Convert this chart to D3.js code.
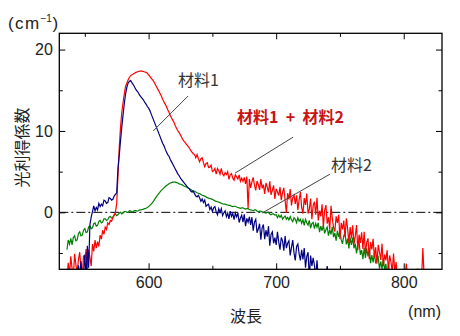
<!DOCTYPE html>
<html>
<head>
<meta charset="utf-8">
<script src="https://cdn.jsdelivr.net/npm/d3@7"></script>
<style>
  body { margin: 0; background: #fff; }
  text { font-family: "Liberation Sans", Arial, sans-serif; fill: #222; }
  .jp { font-family: "Noto Sans CJK JP", sans-serif; }
</style>
</head>
<body>
<div id="chart"></div>
<script>
const width = 460;
const height = 336;

// wavelength grid (nm) for each series: start + 1 nm step
const redStart = 536;
const blueStart = 544;
const greenStart = 536;
const stepNm = 1;

// 材料1 + 材料2 (red)
const redValues = [
  -8, -6.2, -7.8, -5.4, -6.9, -8, -5.1, -6.4, -7.5, -5.8,
  -4.9, -6.8, -7.9, -5.3, -5.9, -4.5, -7.1, -4.6, -5.5, -6.6,
  -3.9, -4.8, -3.4, -4.4, -3.6, -4.2, -2.8, -3.3, -2.2, -2.7,
  -1.8, -2.1, -1.3, -1.5, -1.0, -1.1, -0.6, -0.4, 0.0, 1.1,
  4.5, 8.0, 10.5, 12.3, 13.5, 14.6, 15.5, 15.9, 16.3, 16.6,
  16.8, 16.9, 17.0, 17.1, 17.2, 17.25, 17.3, 17.35, 17.35, 17.35,
  17.3, 17.25, 17.2, 17.1, 16.9, 16.7, 16.5, 16.3, 16.1, 15.8,
  15.5, 15.2, 14.9, 14.6, 14.3, 13.9, 13.6, 13.3, 13.0, 12.6,
  12.3, 11.9, 11.6, 11.3, 11.0, 10.6, 10.3, 10.0, 9.8, 9.5,
  9.2, 8.9, 8.7, 8.5, 8.3, 8.1, 7.9, 7.6, 7.4, 7.2,
  7.1, 6.7, 7.1, 6.6, 6.2, 6.6, 6.7, 6.1, 5.6, 6.0,
  6.1, 5.5, 5.55, 5.8, 5.0, 5.1, 5.4, 4.7, 5.4, 5.1,
  4.7, 5.4, 4.7, 4.5, 4.9, 4.65, 5.0, 4.05, 4.6, 4.75,
  4.2, 3.95, 4.6, 4.35, 4.1, 4.6, 3.8, 4.2, 3.8, 4.3,
  3.5, 4.4, 0.5, 4.1, 3.0, 3.75, 4.3, 3.35, 2.7, 3.85,
  3.4, 2.75, 4.1, 2.95, 3.4, 2.25, 3.6, 3.1, 2.45, 3.8,
  2.15, 2.7, 3.3, 1.65, 2.9, 2.5, 2.05, 3.1, 1.5, 2.45,
  3.0, 1.5, -0.05, 2.35, 1.6, 2.85, 0.85, 1.8, 2.1, 1.05,
  2.1, 0.3, 1.55, 2.5, 0.6, -0.15, 1.75, 0.9, 2.3, -0.15,
  0.4, 1.7, -0.85, 0.85, 1.3, -0.3, 1.8, -1.0, 0.2, -0.5,
  1.0, -1.8, 0.2, 0.9, -1.4, -0.6, -2.1, 0.8, -0.75, -1.85,
  -2.35, -0.5, -1.3, -0.3, -3.3, -1.3, -2.1, -1.0, -3.05, -0.75,
  -1.95, -3.75, -1.8, -3.2, -1.6, -3.9, -2.9, -1.55, -4.65, -2.75,
  -3.75, -2.45, -4.5, -2.4, -5.1, -3.7, -3.2, -5.75, -3.65, -4.55,
  -3.25, -5.55, -4.3, -6.3, -4.0, -4.9, -5.85, -3.85, -6.6, -5.2,
  -5.9, -4.65, -7.25, -5.3, -6.1, -7.3, -5.05, -7.25, -6.1, -8,
  -8, -8, -7.2, -8, -8, -8, -6.3, -8, -8, -8,
  -8, -8, -8, -8, -8, -6.9, -8, -8, -8, -4.4,
  -8
];

// 材料1 (navy)
const blueValues = [
  -8, -6.5, -7.9, -6.0, -8, -7.6, -5.2, -8, -4.1, -6.8,
  -1.5, -0.6, 0.1, 0.8, 0.2, 0.6, 0.3, 1.1, 0.7, 1.0,
  0.8, 1.5, 1.4, 1.1, 1.2, 1.8, 1.7, 1.5, 1.6, 2.0,
  2.2, 2.4, 5.4, 7.0, 8.8, 10.5, 12.0, 13.4, 14.6, 15.4,
  15.9, 16.1, 16.2, 15.9, 15.7, 15.4, 15.1, 14.9, 14.7, 14.4,
  14.2, 14.0, 13.8, 13.5, 13.3, 13.0, 12.8, 12.5, 12.1, 11.7,
  11.3, 10.9, 10.5, 10.1, 9.7, 9.3, 8.9, 8.5, 8.2, 7.8,
  7.4, 7.1, 6.9, 6.5, 6.2, 5.9, 5.6, 5.3, 5.0, 4.7,
  4.5, 4.2, 4.0, 3.8, 3.6, 3.4, 3.2, 3.0, 2.9, 2.6,
  2.5, 2.6, 2.3, 2.0, 1.9, 2.1,
  1.8, 1.35, 1.65, 1.2, 1.5, 0.75, 0.9, 1.0, 0.35, 0.65,
  0.1, 0.55, 0.7, 0.05, -0.3, 0.45, 0.0, 0.45, -0.4, -0.05,
  0.2, -0.55, -0.1, -0.8, 0.15, -0.5, -0.15, -0.9, -0.1, -0.55,
  -0.1, -1.25, -0.7, -0.35, -1.2, -0.25, -1.7, -0.75, -1.2, -0.55,
  -1.55, -0.6, -2.25, -1.2, -0.85, -2.5, -2.05, -1.4, -3.35, -1.9,
  -1.5, -3.3, -2.2, -3.0, -1.7, -4.1, -2.7, -2.4, -3.8, -3.1,
  -4.0, -2.4, -3.6, -4.6, -3.1, -3.5, -4.7, -2.9, -4.4, -3.8,
  -3.5, -5.3, -4.3, -3.4, -5.0, -5.9, -4.2, -3.9, -5.1, -5.9,
  -4.6, -5.8, -4.4, -6.8, -5.4, -4.9, -8.1, -5.3, -6.6, -5.6,
  -6.5, -8, -5.9, -8, -7.4, -8, -8, -8, -8, -8,
  -6.6, -8, -8, -8
];

// 材料2 (green)
const greenValues = [
  -4.6, -3.4, -3.9, -3.2, -4.0, -3.1, -2.9, -3.5, -3.4, -2.6,
  -2.4, -2.9, -2.8, -2.2, -2.0, -2.5, -2.4, -1.8, -1.7, -2.0,
  -1.9, -1.4, -1.3, -1.7, -1.6, -1.1, -1.0, -1.3, -1.2, -0.8,
  -0.8, -1.0, -0.9, -0.6, -0.5, -0.7, -0.6, -0.3, -0.2, -0.4,
  -0.3, -0.1, 0.0, -0.2, -0.1, 0.1, 0.1, 0.0, 0.0, 0.2,
  0.15, 0.05, 0.1, 0.2, 0.2, 0.15, 0.2, 0.3, 0.3, 0.35,
  0.4, 0.45, 0.5, 0.6, 0.7, 0.85, 1.0, 1.2, 1.4, 1.65,
  1.9, 2.1, 2.3, 2.5, 2.7, 2.85, 3.0, 3.15, 3.3, 3.4,
  3.5, 3.6, 3.65, 3.7, 3.7, 3.7, 3.65, 3.6, 3.5, 3.45,
  3.4, 3.3, 3.2, 3.15, 3.1, 3.0, 2.9, 2.8, 2.7, 2.65,
  2.6, 2.5, 2.4, 2.35, 2.3, 2.2, 2.1, 2.05, 2.0, 1.9,
  1.8, 1.75, 1.7, 1.65, 1.6, 1.5, 1.4, 1.35, 1.3, 1.25,
  1.2, 1.1, 1.05, 1.0, 1.0, 0.95, 0.9, 0.85, 0.85, 0.75,
  0.7, 0.75, 0.75, 0.65, 0.6, 0.55, 0.5, 0.55, 0.55, 0.45,
  0.4, 0.45, 0.45, 0.35, 0.3, 0.25, 0.2, 0.3, 0.3, 0.15,
  0.1, 0.15, 0.15, 0.05, 0.0, -0.05, -0.1, 0.0, 0.0, -0.2,
  -0.3, -0.2, -0.2, -0.35,
  -0.3, -0.64, -0.33, -0.61, -0.35, -0.83, -0.62, -0.45, -0.84, -0.62,
  -0.95, -0.53, -0.91, -1.14, -0.67, -0.85, -1.28, -0.66, -1.09, -0.87,
  -1.35, -0.9, -1.61, -0.86, -1.27, -1.57, -0.98, -1.93, -1.39, -1.24,
  -2.0, -1.36, -1.82, -1.28, -2.44, -1.7, -2.26, -1.57, -2.58, -2.14,
  -1.8, -2.87, -2.14, -2.71, -1.78, -3.05, -2.52, -3.49, -2.26, -3.03,
  -2.3, -3.39, -3.88, -2.87, -2.56, -3.95, -3.24, -4.43, -3.12, -4.01,
  -3.1, -4.42, -3.84, -5.06, -3.88, -3.6, -5.22, -4.64, -5.76, -4.38,
  -5.6, -4.41, -5.42, -4.43, -6.24, -5.25, -6.16, -4.97, -6.28, -5.79,
  -5.5, -6.92, -6.04, -6.96, -5.68, -7.1, -6.32, -7.84, -6.46, -7.98,
  -8
];

const xMajor = [600, 700, 800];
const xMinor = [550, 650, 750];
const yMajor = [0, 10, 20];
const yMinor = [-5, 5, 15];

const margin = { top: 33.3, right: 18, bottom: 66.7, left: 59.3 };
const plot = {
  left: margin.left,
  right: width - margin.right,
  top: margin.top,
  bottom: height - margin.bottom,
};

const xScale = d3.scaleLinear().domain([530, 830]).range([plot.left, plot.right]);
const yScale = d3.scaleLinear().domain([-7, 22]).range([plot.bottom, plot.top]);

function toPoints(start, values) {
  return values.map((v, i) => ({ nm: start + i * stepNm, v }));
}

const svg = d3.select('#chart')
  .append('svg')
  .attr('width', width)
  .attr('height', height);

svg.append('clipPath').attr('id', 'clip')
  .append('rect')
  .attr('x', plot.left).attr('y', plot.top)
  .attr('width', plot.right - plot.left)
  .attr('height', plot.bottom - plot.top);

// zero line (dash-dot)
svg.append('line')
  .attr('x1', plot.left).attr('x2', plot.right)
  .attr('y1', yScale(0)).attr('y2', yScale(0))
  .attr('stroke', '#000')
  .attr('stroke-width', 1)
  .attr('stroke-dasharray', '9,3,2,3');

const line = d3.line()
  .x((d) => xScale(d.nm))
  .y((d) => yScale(d.v));

const series = [
  { pts: toPoints(greenStart, greenValues), color: '#008000' },
  { pts: toPoints(redStart, redValues), color: '#ff0000' },
  { pts: toPoints(blueStart, blueValues), color: '#000080' },
];

const lines = svg.append('g').attr('clip-path', 'url(#clip)');
lines.selectAll('path')
  .data(series)
  .join('path')
  .attr('d', (d) => line(d.pts))
  .attr('fill', 'none')
  .attr('stroke', (d) => d.color)
  .attr('stroke-width', 1.2);

// axes: ticks point inward on all four sides
function styleAxis(g) {
  g.select('.domain').remove();
  g.selectAll('.tick line').attr('stroke', '#000').attr('stroke-width', 1);
  g.selectAll('.tick text').attr('font-size', 16).attr('fill', '#222')
    .style('font-family', '"Liberation Sans", Arial, sans-serif');
}

svg.append('g')
  .attr('transform', `translate(0, ${plot.bottom})`)
  .call(d3.axisBottom(xScale).tickValues(xMajor).tickSize(-6).tickPadding(7).tickFormat(d3.format('d')))
  .call(styleAxis);
svg.append('g')
  .attr('transform', `translate(0, ${plot.bottom})`)
  .call(d3.axisBottom(xScale).tickValues(xMinor).tickSize(-3.5).tickFormat(''))
  .call(styleAxis);
svg.append('g')
  .attr('transform', `translate(0, ${plot.top})`)
  .call(d3.axisTop(xScale).tickValues(xMajor).tickSize(-6).tickFormat(''))
  .call(styleAxis);
svg.append('g')
  .attr('transform', `translate(0, ${plot.top})`)
  .call(d3.axisTop(xScale).tickValues(xMinor).tickSize(-3.5).tickFormat(''))
  .call(styleAxis);
svg.append('g')
  .attr('transform', `translate(${plot.left}, 0)`)
  .call(d3.axisLeft(yScale).tickValues(yMajor).tickSize(-6).tickPadding(6.5).tickFormat(d3.format('d')))
  .call(styleAxis);
svg.append('g')
  .attr('transform', `translate(${plot.left}, 0)`)
  .call(d3.axisLeft(yScale).tickValues(yMinor).tickSize(-3.5).tickFormat(''))
  .call(styleAxis);
svg.append('g')
  .attr('transform', `translate(${plot.right}, 0)`)
  .call(d3.axisRight(yScale).tickValues(yMajor).tickSize(-6).tickFormat(''))
  .call(styleAxis);
svg.append('g')
  .attr('transform', `translate(${plot.right}, 0)`)
  .call(d3.axisRight(yScale).tickValues(yMinor).tickSize(-3.5).tickFormat(''))
  .call(styleAxis);

// frame
svg.append('rect')
  .attr('x', plot.left).attr('y', plot.top)
  .attr('width', plot.right - plot.left)
  .attr('height', plot.bottom - plot.top)
  .attr('fill', 'none')
  .attr('stroke', '#000')
  .attr('stroke-width', 1.3);

// units
const unitY = svg.append('text')
  .attr('x', 8).attr('y', 29)
  .attr('font-size', 17);
unitY.append('tspan').attr('letter-spacing', 1.4).text('(cm');
unitY.append('tspan').attr('font-size', 10).attr('dy', -7).text('\u22121');
unitY.append('tspan').attr('dy', 7).attr('dx', 0.5).text(')');

svg.append('text')
  .attr('x', plot.right - 1).attr('y', 317)
  .attr('text-anchor', 'end')
  .attr('font-size', 16)
  .text('(nm)');

svg.append('text')
  .attr('class', 'jp')
  .attr('x', 246).attr('y', 322)
  .attr('text-anchor', 'middle')
  .attr('font-size', 16)
  .text('波長');

svg.append('text')
  .attr('class', 'jp')
  .attr('transform', 'translate(28, 147.5) rotate(-90)')
  .attr('text-anchor', 'middle')
  .attr('font-size', 16)
  .text('光利得係数');

// annotations with leader lines (data coordinates)
const notes = [
  { label: '材料1', tx: 623, ty: 16.2, l: [[631, 14.3], [603.6, 10.0]], color: '#333', bold: false },
  { label: '材料1  +  材料2', tx: 669.3, ty: 11.7, l: [[713.3, 9.24], [667.8, 4.82]], color: '#c81414', bold: true },
  { label: '材料2', tx: 743, ty: 5.8, l: [[742.3, 4.7], [689, -0.09]], color: '#333', bold: false },
];

svg.append('g').selectAll('line')
  .data(notes)
  .join('line')
  .attr('x1', (d) => xScale(d.l[0][0])).attr('y1', (d) => yScale(d.l[0][1]))
  .attr('x2', (d) => xScale(d.l[1][0])).attr('y2', (d) => yScale(d.l[1][1]))
  .attr('stroke', '#444')
  .attr('stroke-width', 1);

svg.append('g').selectAll('text')
  .data(notes)
  .join('text')
  .attr('class', 'jp')
  .attr('x', (d) => xScale(d.tx))
  .attr('y', (d) => yScale(d.ty))
  .attr('dy', '0.36em')
  .attr('font-size', 16)
  .attr('font-weight', (d) => d.bold ? 'bold' : 'normal')
  .style('fill', (d) => d.color)
  .style('white-space', 'pre')
  .text((d) => d.label);
</script>
</body>
</html>
